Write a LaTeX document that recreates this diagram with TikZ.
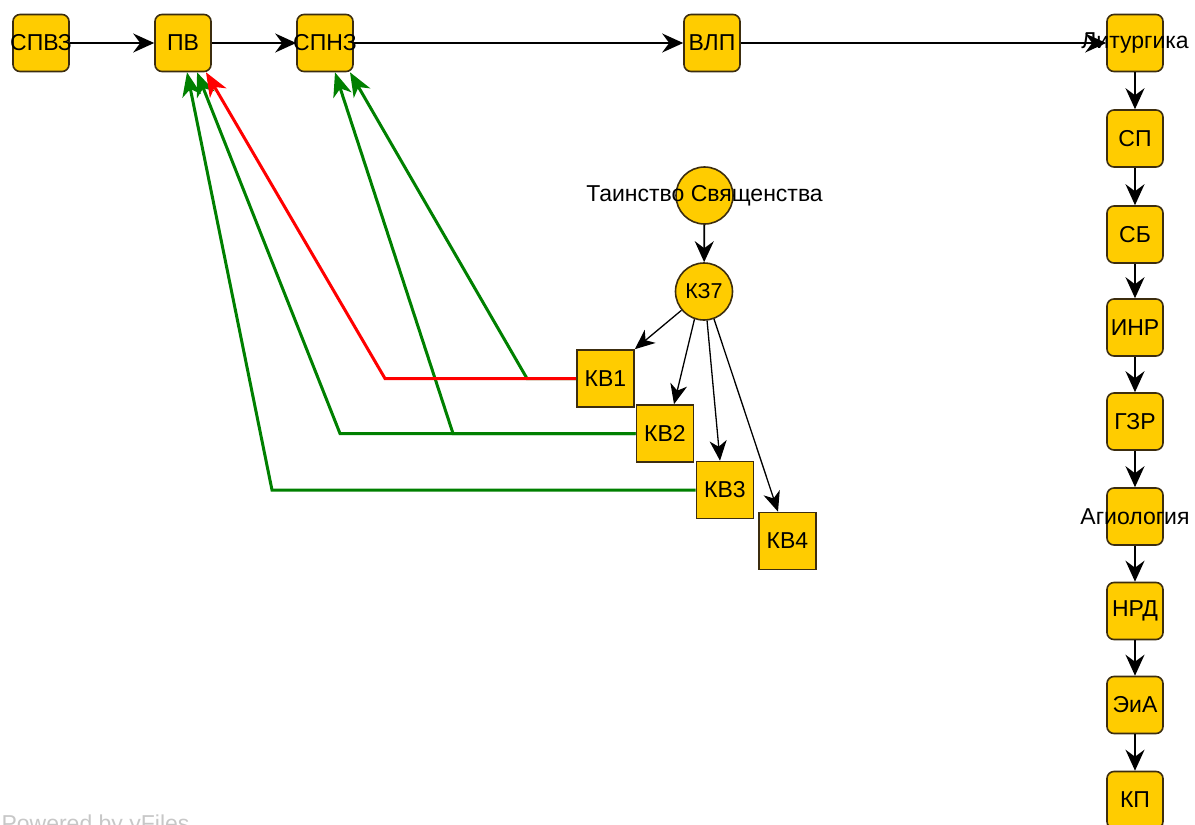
\documentclass[tikz,border=0pt]{standalone}
\usepackage{fontspec}
\setmainfont{Liberation Sans}
\usetikzlibrary{arrows.meta}
\definecolor{gold}{RGB}{255,204,0}
\definecolor{brd}{RGB}{60,45,15}
\definecolor{grn}{RGB}{0,128,0}
\definecolor{rd}{RGB}{255,0,0}
\begin{document}
\begin{tikzpicture}[x=1pt,y=-1pt,
  every node/.style={font=\fontsize{23}{27}\selectfont},
  rbox/.style={draw=brd, fill=gold, line width=1.6pt, rounded corners=7pt, minimum width=56pt, minimum height=57pt, inner sep=0pt},
  sbox/.style={draw=brd, fill=gold, line width=1.6pt, sharp corners, minimum width=57pt, minimum height=57pt, inner sep=0pt},
  circ/.style={draw=brd, fill=gold, line width=1.6pt, circle, minimum size=57pt, inner sep=0pt},
  lab/.style={label={center:#1}},
  blk/.style={draw=black, line width=1.8pt, -{Stealth[length=21pt,width=19pt,inset=7pt]}},
  kzl/.style={draw=black, line width=1.3pt, -{Stealth[length=20pt,width=17pt,inset=6pt]}},
  grnl/.style={draw=grn, line width=3pt, -{Stealth[length=24pt,width=19pt,inset=7pt]}},
  redl/.style={draw=rd, line width=3pt, -{Stealth[length=24pt,width=19pt,inset=7pt]}},
]
\useasboundingbox (0,0) rectangle (1195,825);

% top row
\node[rbox, lab={СПВЗ}] (spvz) at (41,43) {};
\node[rbox] (pv) at (183,43) {ПВ};
\node[rbox, lab={СПНЗ}] (spnz) at (325,43) {};
\node[rbox] (vlp) at (712,43) {ВЛП};

% right column
\node[rbox, lab={Литургика}] (lit) at (1135,43) {};
\node[rbox] (sp) at (1135,138.5) {СП};
\node[rbox] (sb) at (1135,234.5) {СБ};
\node[rbox] (inr) at (1135,327.5) {ИНР};
\node[rbox] (gzr) at (1135,421.5) {ГЗР};
\node[rbox, lab={Агиология}] (agio) at (1135,516.5) {};
\node[rbox] (nrd) at (1135,611) {НРД};
\node[rbox] (eia) at (1135,705) {ЭиА};
\node[rbox] (kp) at (1135,800) {КП};

% circles
\node[circ, lab={Таинство Священства}] (tain) at (704.5,195.5) {};
\node[circ, font=\fontsize{21.5}{25}\selectfont] (kz7) at (704,291.5) {КЗ7};

% squares
\node[sbox] (kv1) at (605.5,378.5) {КВ1};
\node[sbox] (kv2) at (665,433.5) {КВ2};
\node[sbox] (kv3) at (725,490) {КВ3};
\node[sbox] (kv4) at (787.5,541) {КВ4};

% bend points
\coordinate (g1) at (527,378.5);
\coordinate (r1) at (385,378.5);
\coordinate (g2a) at (453,433.5);
\coordinate (g2b) at (340,433.5);
\coordinate (g3) at (272,490);

% black edges
\draw[blk] (spvz) -- (pv);
\draw[blk] (pv) -- (spnz);
\draw[blk] (spnz) -- (vlp);
\draw[blk] (vlp) -- (lit);
\draw[blk] (lit) -- (sp);
\draw[blk] (sp) -- (sb);
\draw[blk] (sb) -- (inr);
\draw[blk] (inr) -- (gzr);
\draw[blk] (gzr) -- (agio);
\draw[blk] (agio) -- (nrd);
\draw[blk] (nrd) -- (eia);
\draw[blk] (eia) -- (kp);
\draw[blk] (tain) -- (kz7);
\draw[kzl] (kz7) -- (kv1.north east);
\draw[kzl] (kz7.251) -- ([xshift=9pt]kv2.north);
\draw[kzl] (kz7.276) -- ([xshift=-5pt]kv3.north);
\draw[kzl] (kz7.290) -- ([xshift=-9.5pt]kv4.north);

% green and red edges
\draw[grnl] (kv1.west) -- (g1) -- ([xshift=25pt]spnz.south);
\draw[grnl] (kv2.west) -- (g2a) -- ([xshift=10pt]spnz.south);
\draw[grnl] (kv2.west) -- (g2b) -- ([xshift=14pt]pv.south);
\draw[grnl] (kv3.west) -- (g3) -- ([xshift=4pt]pv.south);
\draw[redl] (kv1.west) -- (r1) -- ([xshift=23pt]pv.south);

% watermark
\node[anchor=base west, text=black!22] (wm) at (-2,831) {Powered by yFiles};
\end{tikzpicture}
\end{document}
